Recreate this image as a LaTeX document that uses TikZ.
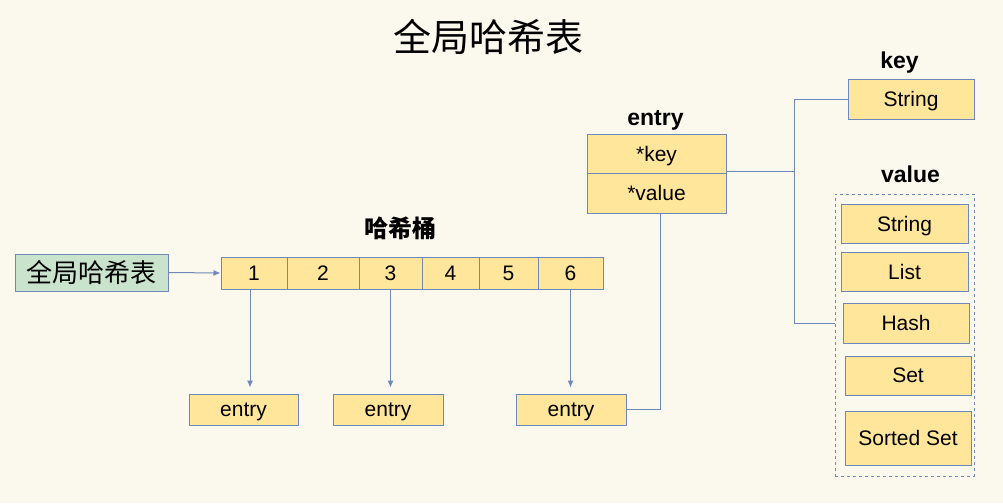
\documentclass[tikz,border=0pt]{standalone}
\usepackage{fontspec}
\setmainfont{Liberation Sans}
\newfontfamily\cjk{Noto Sans CJK SC}
\usetikzlibrary{arrows.meta}

\definecolor{paper}{HTML}{FBF8EE}
\definecolor{cellfill}{HTML}{FFE69B}
\definecolor{cellline}{HTML}{6F88BC}
\definecolor{tablefill}{HTML}{C9E3CD}

\tikzset{
	cell/.style={draw=cellline, fill=cellfill, line width=1pt, inner sep=0pt,
		text depth=0pt, font=\fontsize{21}{21}\selectfont},
	tablebox/.style={cell, fill=tablefill, text depth=2pt, font=\cjk\fontsize{26}{26}\selectfont},
	caption/.style={font=\bfseries\fontsize{23}{23}\selectfont},
	link/.style={draw=cellline, line width=1pt},
	pointer/.style={link, -{Latex[length=7pt,width=6pt]}},
}

\begin{document}
\begin{tikzpicture}[x=1pt, y=-1pt]
	\fill [paper] (0,0) rectangle (1003,503) ;
	\useasboundingbox (0,0) rectangle (1003,503) ;

	\node [font=\cjk\fontsize{38}{38}\selectfont] (title) at (488,37) {全局哈希表} ;

	% global table and buckets
	\node [tablebox, minimum width=153, minimum height=37] (table) at (91.5,272.5) {全局哈希表} ;
	\node [font=\cjk\bfseries\fontsize{24}{24}\selectfont] (bucketlabel) at (400,228) {哈希桶} ;
	\node [cell, minimum width=66, minimum height=32] (b1) at (254,273) {1} ;
	\node [cell, minimum width=72, minimum height=32] (b2) at (323,273) {2} ;
	\node [cell, minimum width=63, minimum height=32] (b3) at (390.5,273) {3} ;
	\node [cell, minimum width=57, minimum height=32] (b4) at (450.5,273) {4} ;
	\node [cell, minimum width=59, minimum height=32] (b5) at (508.5,273) {5} ;
	\node [cell, minimum width=65, minimum height=32] (b6) at (570.5,273) {6} ;
	\draw [pointer] (table.east) -- (b1.west) ;

	\node [cell, minimum width=109, minimum height=31] (e1) at (243.5,409.5) {entry} ;
	\node [cell, minimum width=110, minimum height=31] (e2) at (388,409.5) {entry} ;
	\node [cell, minimum width=110, minimum height=31] (e3) at (571,409.5) {entry} ;
	\draw [pointer, shorten >=6pt] ([xshift=-4pt]b1.south) -- ([xshift=-4pt]b1.south |- e1.north) ;
	\draw [pointer, shorten >=6pt] (b3.south) -- (b3.south |- e3.north) ;
	\draw [pointer, shorten >=6pt] (b6.south) -- (b6.south |- e3.north) ;

	% entry struct
	\node [caption] (entrylabel) at (655.5,120) {entry} ;
	\node [cell, minimum width=139, minimum height=39] (ekey) at (656.5,153.5) {*key} ;
	\node [cell, minimum width=139, minimum height=40] (evalue) at (656.5,193) {*value} ;
	\draw [link] ([xshift=4pt]evalue.south) |- (e3.east) ;

	% key and value types
	\node [caption] (keylabel) at (899.5,63) {key} ;
	\node [cell, minimum width=126, minimum height=40] (kstring) at (911,99) {String} ;
	\node [caption] (valuelabel) at (910.5,174) {value} ;
	\node [draw=cellline, dashed, line width=1pt, minimum width=139, minimum height=282] (types) at (904.5,335) {} ;
	\node [cell, minimum width=127, minimum height=39] (vstring) at (904.5,223.5) {String} ;
	\node [cell, minimum width=127, minimum height=39] (vlist) at (904.5,271.5) {List} ;
	\node [cell, minimum width=126, minimum height=40] (vhash) at (906,323) {Hash} ;
	\node [cell, minimum width=126, minimum height=39] (vset) at (908,375.5) {Set} ;
	\node [cell, minimum width=126, minimum height=54] (vzset) at (908,438) {Sorted Set} ;

	\coordinate (fork) at (794,171) ;
	\draw [link] (ekey.east |- fork) -- (fork) ;
	\draw [link] (kstring.west) -| (fork) |- (types.west |- vhash.west) ;
\end{tikzpicture}
\end{document}
